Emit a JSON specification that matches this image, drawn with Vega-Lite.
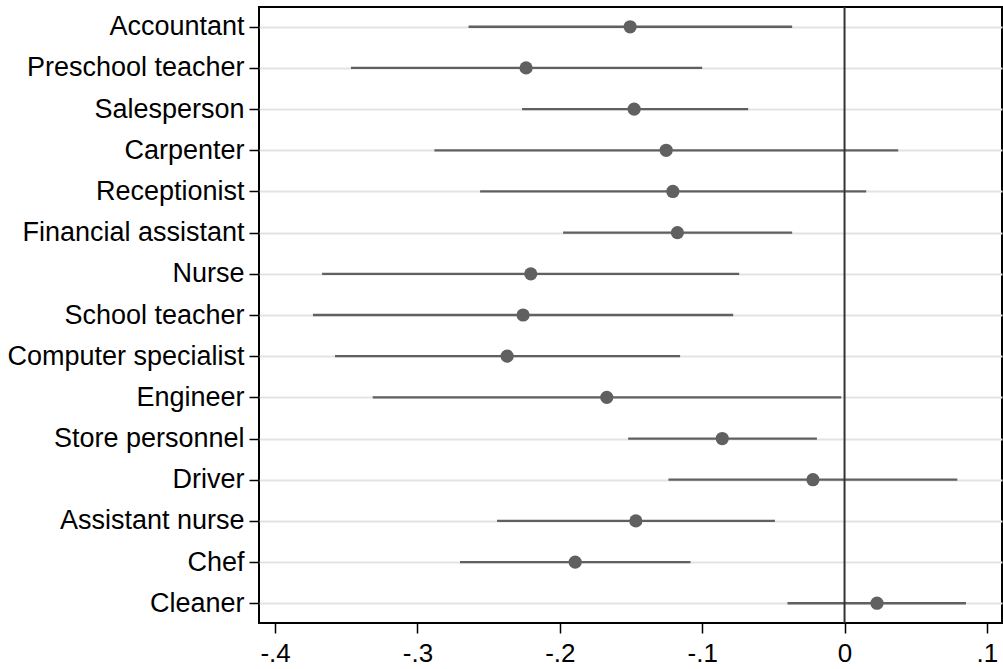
{
  "$schema": "https://vega.github.io/schema/vega-lite/v6.json",
  "autosize": {"type": "none"},
  "padding": {"left": 259, "top": 7, "right": 1, "bottom": 45},
  "width": 743,
  "height": 616,
  "background": "white",
  "config": {
    "font": "Liberation Sans",
    "view": {"stroke": "#000000", "strokeWidth": 2},
    "axis": {"domain": false, "titleFontSize": 0}
  },
  "data": {
    "values": [
      {"occupation": "Accountant", "est": -0.1506, "lo": -0.2641, "hi": -0.0368},
      {"occupation": "Preschool teacher", "est": -0.2237, "lo": -0.3467, "hi": -0.1000},
      {"occupation": "Salesperson", "est": -0.1478, "lo": -0.2265, "hi": -0.0677},
      {"occupation": "Carpenter", "est": -0.1253, "lo": -0.2881, "hi": 0.0377},
      {"occupation": "Receptionist", "est": -0.1206, "lo": -0.2560, "hi": 0.0152},
      {"occupation": "Financial assistant", "est": -0.1174, "lo": -0.1977, "hi": -0.0368},
      {"occupation": "Nurse", "est": -0.2204, "lo": -0.3670, "hi": -0.0740},
      {"occupation": "School teacher", "est": -0.2258, "lo": -0.3734, "hi": -0.0782},
      {"occupation": "Computer specialist", "est": -0.2370, "lo": -0.3579, "hi": -0.1155},
      {"occupation": "Engineer", "est": -0.1670, "lo": -0.3314, "hi": -0.0023},
      {"occupation": "Store personnel", "est": -0.0859, "lo": -0.1520, "hi": -0.0194},
      {"occupation": "Driver", "est": -0.0222, "lo": -0.1237, "hi": 0.0792},
      {"occupation": "Assistant nurse", "est": -0.1466, "lo": -0.2441, "hi": -0.0489},
      {"occupation": "Chef", "est": -0.1892, "lo": -0.2701, "hi": -0.1082},
      {"occupation": "Cleaner", "est": 0.0228, "lo": -0.0401, "hi": 0.0853}
    ]
  },
  "encoding": {
    "y": {
      "field": "occupation",
      "type": "nominal",
      "sort": null,
      "title": null,
      "scale": {"type": "point", "padding": 0.48},
      "axis": {
        "grid": true,
        "gridColor": "#e3e3e3",
        "gridWidth": 2,
        "ticks": true,
        "tickColor": "#000000",
        "tickWidth": 1.5,
        "tickSize": 10,
        "labelFontSize": 27,
        "labelColor": "#000000",
        "labelPadding": 5,
        "labelFont": "Liberation Sans",
        "labelLimit": 300
      }
    }
  },
  "layer": [
    {
      "mark": {"type": "rule", "color": "#606060", "strokeWidth": 2.3},
      "encoding": {
        "x": {
          "field": "lo",
          "type": "quantitative",
          "title": null,
          "scale": {"domain": [-0.4113, 0.1106], "nice": false, "zero": false},
          "axis": {
            "values": [-0.4, -0.3, -0.2, -0.1, 0, 0.1],
            "labelExpr": "datum.value == 0 ? '0' : (datum.value < 0 ? '-' : '') + replace(format(abs(datum.value), '.1f'), '0.', '.')",
            "grid": false,
            "tickColor": "#000000",
            "tickWidth": 1.5,
            "tickSize": 10,
            "labelFontSize": 26,
            "labelColor": "#000000",
            "labelPadding": 7,
            "labelFont": "Liberation Sans"
          }
        },
        "x2": {"field": "hi"}
      }
    },
    {
      "data": {"values": [{"ref": 0}]},
      "mark": {"type": "rule", "color": "#333333", "strokeWidth": 2},
      "encoding": {
        "x": {"field": "ref", "type": "quantitative"},
        "y": null
      }
    },
    {
      "mark": {"type": "circle", "color": "#606060", "opacity": 1, "size": 175},
      "encoding": {
        "x": {"field": "est", "type": "quantitative"}
      }
    }
  ]
}
